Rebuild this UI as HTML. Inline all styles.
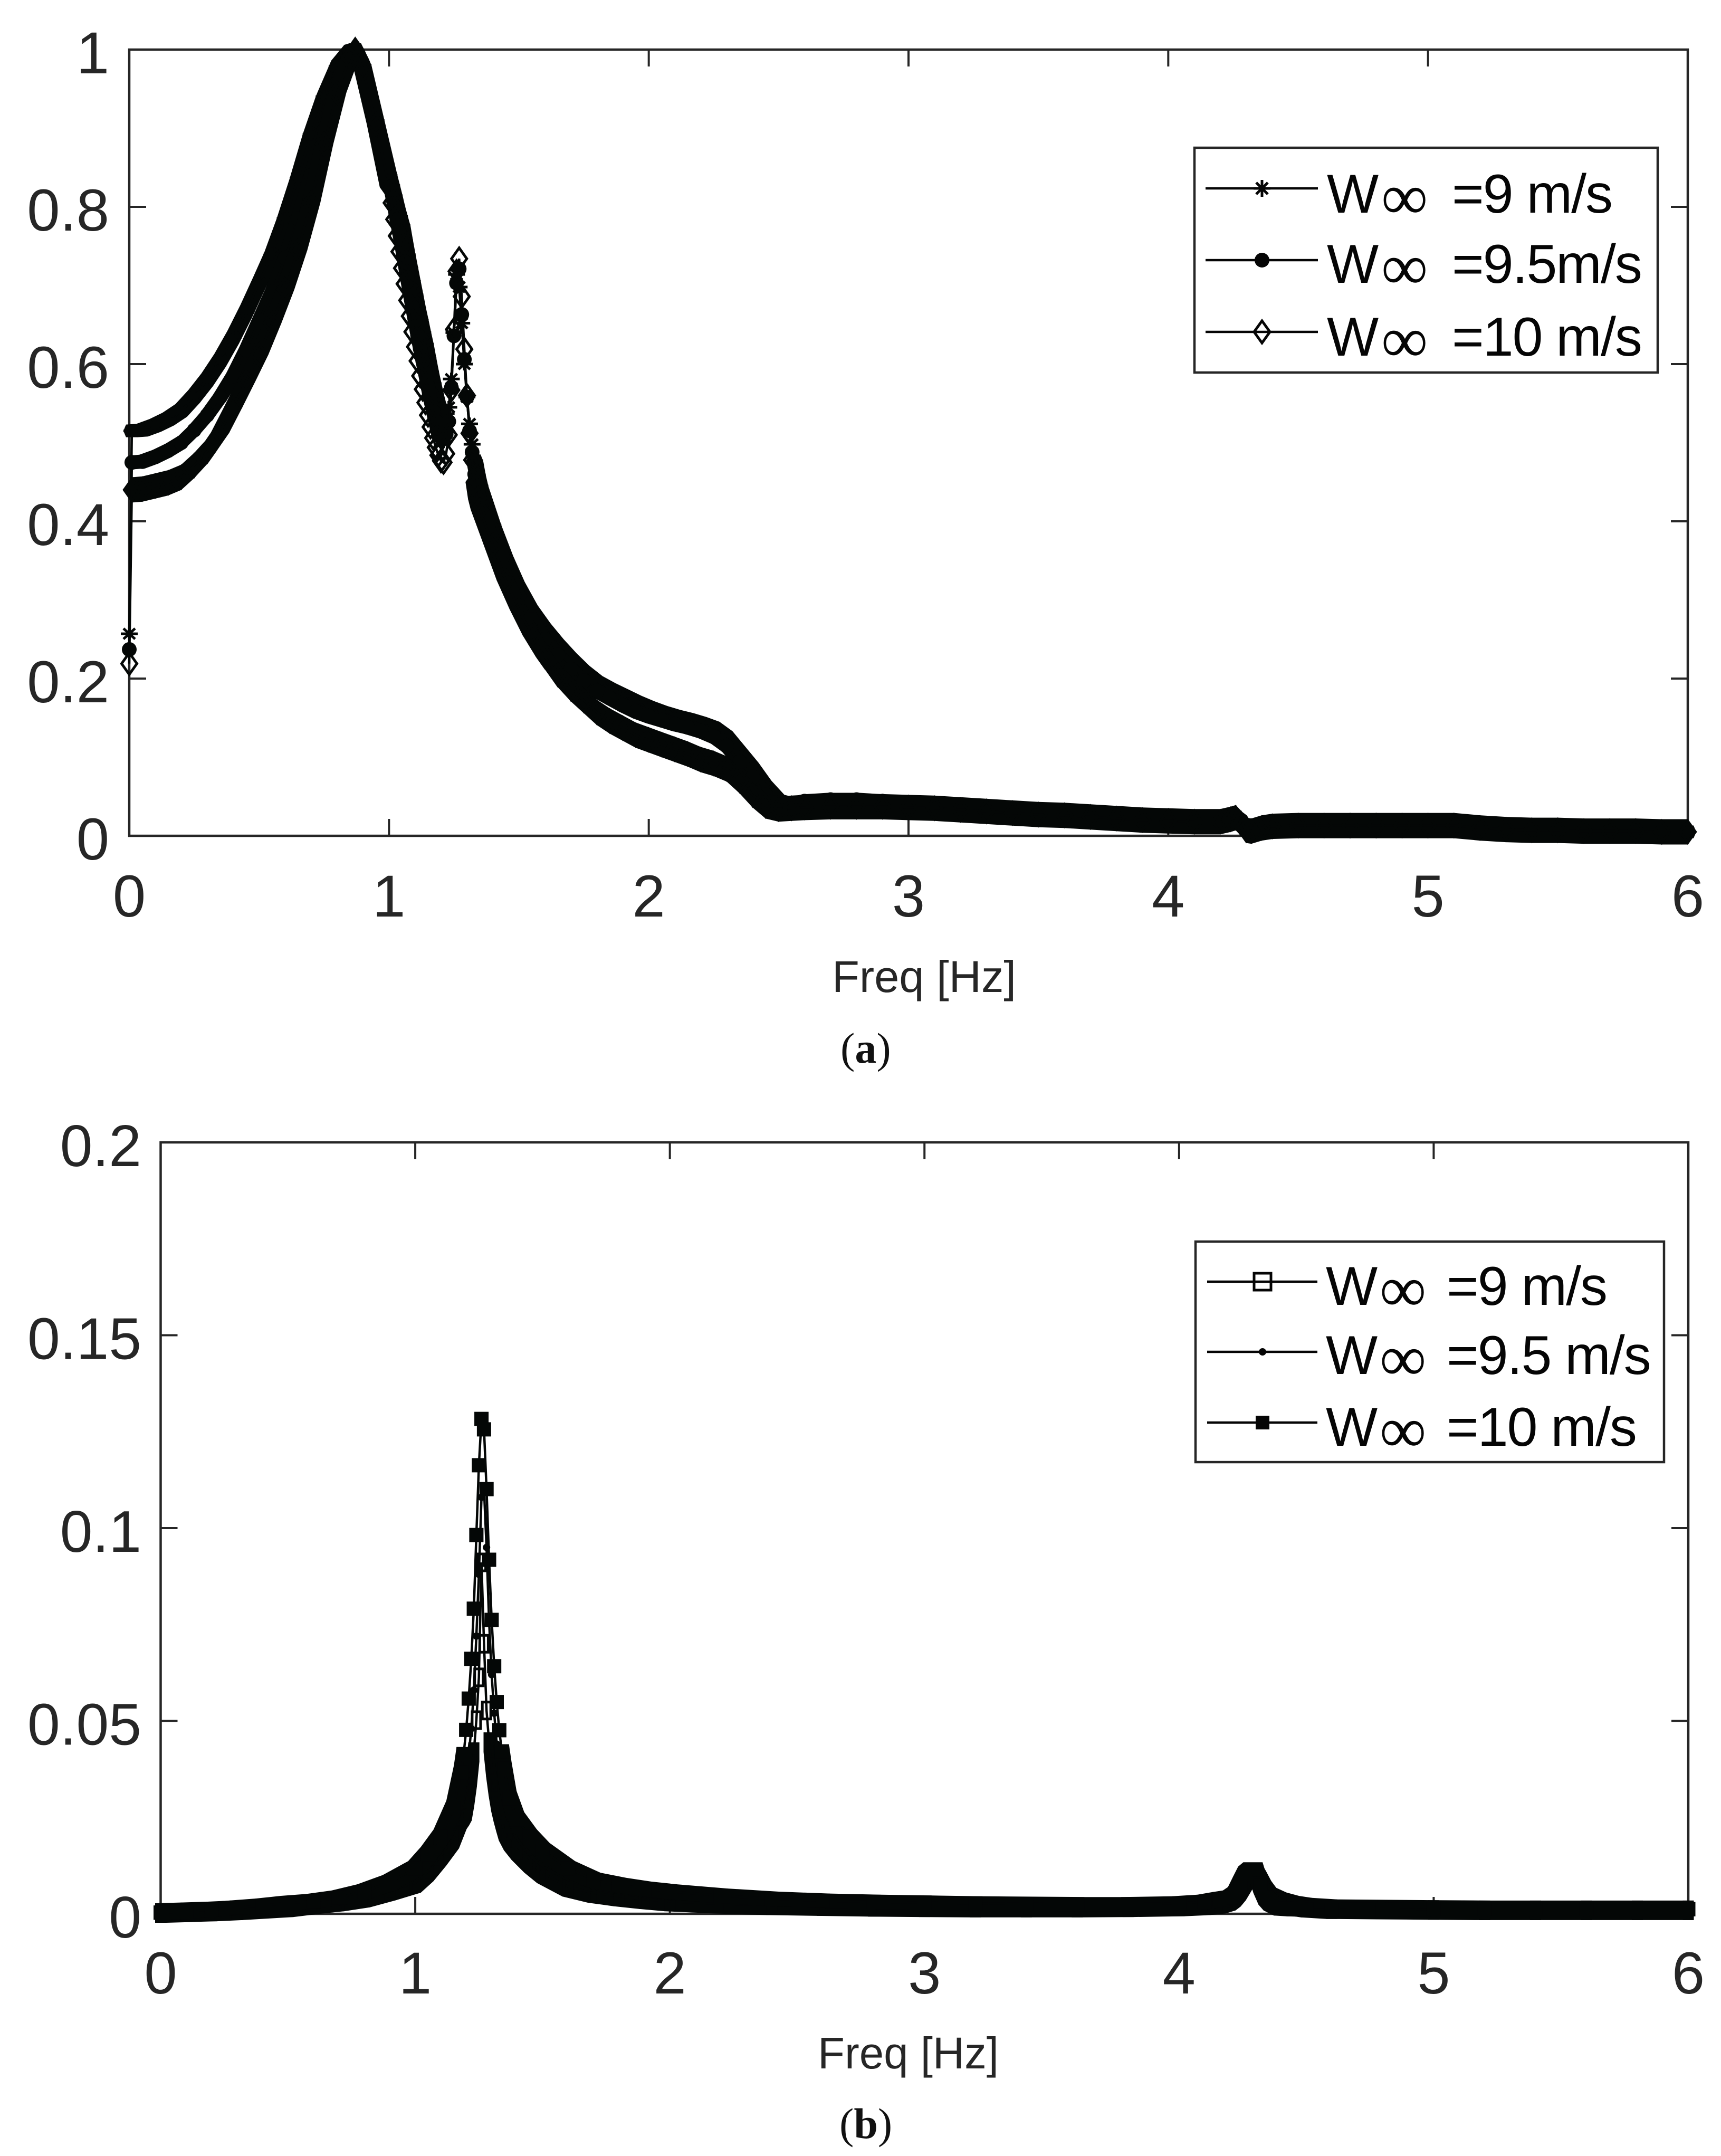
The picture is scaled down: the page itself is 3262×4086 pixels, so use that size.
<!DOCTYPE html>
<html lang="en">
<head>
<meta charset="utf-8">
<title>Frequency response charts</title>
<style>
html,body{margin:0;padding:0;background:#fff}
svg{display:block}
text{font-family:"Liberation Sans",sans-serif;fill:#262626}
.leg{fill:#050505;font-size:104px;letter-spacing:-2px}
.inf{font-family:"Liberation Serif",serif;font-size:124px;letter-spacing:0}
.cap{font-family:"Liberation Serif",serif;font-size:82px;fill:#111}
</style>
</head>
<body>
<svg id="fig" xmlns="http://www.w3.org/2000/svg" width="3262" height="4086" viewBox="0 0 3262 4086">
  <rect width="3262" height="4086" fill="#fff"/>

  <g id="panelA"></g>
  <g id="panelB"></g>

  <text x="1577" y="1880" font-size="84" textLength="349" lengthAdjust="spacingAndGlyphs">Freq [Hz]</text>
  <text class="cap" x="1593" y="2014">(<tspan font-weight="bold">a</tspan>)</text>
  <text x="1550" y="3920" font-size="84" textLength="343" lengthAdjust="spacingAndGlyphs">Freq [Hz]</text>
  <text class="cap" x="1591" y="4052">(<tspan font-weight="bold">b</tspan>)</text>

  <g>
    <rect x="2264" y="280" width="878" height="426" fill="#fff" stroke="#262626" stroke-width="4.5"/>
    <g>
      <path d="M2285 357H2498" stroke="#050505" stroke-width="4.5" fill="none"/>
      <path d="M2392 341V373M2376 357H2408M2381 346L2403 368M2403 346L2381 368" stroke="#050505" stroke-width="5" fill="none"/>
      <text class="leg" x="2515" y="403">W<tspan class="inf" x="2618" dy="12">∞</tspan><tspan x="2752" dy="-12">=9 m/s</tspan></text>
    </g>
    <g>
      <path d="M2285 493H2498" stroke="#050505" stroke-width="4.5" fill="none"/>
      <circle cx="2392" cy="493" r="14" fill="#050505"/>
      <text class="leg" x="2515" y="536">W<tspan class="inf" x="2618" dy="12">∞</tspan><tspan x="2752" dy="-12">=9.5m/s</tspan></text>
    </g>
    <g>
      <path d="M2285 629H2498" stroke="#050505" stroke-width="4.5" fill="none"/>
      <path d="M2377 629L2392 608L2407 629L2392 650Z" stroke="#050505" stroke-width="5" fill="#fff"/>
      <path d="M2377 629H2407" stroke="#050505" stroke-width="4.5"/>
      <text class="leg" x="2515" y="674">W<tspan class="inf" x="2618" dy="12">∞</tspan><tspan x="2752" dy="-12">=10 m/s</tspan></text>
    </g>
  </g>

  <g>
    <rect x="2266" y="2353" width="888" height="418" fill="#fff" stroke="#262626" stroke-width="4.5"/>
    <g>
      <path d="M2288 2429H2497" stroke="#050505" stroke-width="4.5" fill="none"/>
      <rect x="2377" y="2413" width="32" height="32" fill="none" stroke="#050505" stroke-width="5"/>
      <text class="leg" x="2513" y="2473">W<tspan class="inf" x="2615" dy="12">∞</tspan><tspan x="2742" dy="-12">=9 m/s</tspan></text>
    </g>
    <g>
      <path d="M2288 2562H2497" stroke="#050505" stroke-width="4.5" fill="none"/>
      <circle cx="2393" cy="2562" r="7" fill="#050505"/>
      <text class="leg" x="2513" y="2604">W<tspan class="inf" x="2615" dy="12">∞</tspan><tspan x="2742" dy="-12">=9.5 m/s</tspan></text>
    </g>
    <g>
      <path d="M2288 2696H2497" stroke="#050505" stroke-width="4.5" fill="none"/>
      <rect x="2380" y="2683" width="26" height="26" fill="#050505"/>
      <text class="leg" x="2513" y="2740">W<tspan class="inf" x="2615" dy="12">∞</tspan><tspan x="2742" dy="-12">=10 m/s</tspan></text>
    </g>
  </g>
</svg>

<script>
/* ---------- shared tick values ---------- */
const xTickValues = [0, 1, 2, 3, 4, 5, 6];
const xTickLabels = ["0", "1", "2", "3", "4", "5", "6"];

/* ---------- panel (a) data ---------- */
const yTickValuesA = [0, 0.2, 0.4, 0.6, 0.8, 1];
const yTickLabelsA = ["0", "0.2", "0.4", "0.6", "0.8", "1"];

const freqA = [0,.01,.05,.1,.15,.2,.25,.3,.35,.4,.45,.5,.55,.6,.65,.7,.75,.8,.85,.87,.9,.95,
1,1.01,1.02,1.03,1.04,1.05,1.06,1.07,1.08,1.09,1.1,1.11,1.12,1.13,1.14,1.15,1.16,1.17,1.18,1.19,
1.2,1.21,1.22,1.23,1.24,1.25,1.26,1.27,1.28,1.29,1.3,1.31,1.32,1.33,1.34,1.35,
1.4,1.45,1.5,1.55,1.6,1.65,1.7,1.75,1.8,1.85,1.9,1.95,2,2.05,2.1,2.15,2.2,2.25,2.3,2.35,2.4,2.45,2.5,2.55,
2.6,2.7,2.8,2.9,3,3.1,3.2,3.3,3.4,3.5,3.6,3.7,3.8,3.9,4,4.1,4.2,4.24,4.26,4.28,4.3,4.32,4.36,4.4,
4.5,4.6,4.7,4.8,4.9,5,5.1,5.2,5.3,5.4,5.5,5.6,5.7,5.8,5.9,6];

const wind9A = [.257,.515,.516,.522,.530,.541,.559,.580,.605,.634,.667,.703,.740,.785,.836,.892,.940,.978,.998,1,.980,.910,
.840,.827,.814,.800,.788,.776,.757,.739,.722,.705,.688,.671,.656,.640,.625,.607,.590,.575,.560,.547,
.538,.535,.537,.545,.581,.640,.714,.698,.652,.600,.558,.524,.498,.477,.459,.445,
.395,.352,.315,.285,.262,.242,.224,.208,.195,.186,.178,.170,.163,.157,.152,.148,.143,.137,.125,.105,.085,.062,.044,.040,
.043,.043,.043,.042,.040,.038,.036,.034,.032,.030,.028,.026,.024,.022,.021,.020,.020,.022,.023,.018,.008,.006,.010,.012,
.014,.014,.014,.014,.014,.014,.014,.011,.009,.008,.008,.007,.007,.006,.006,.005];

const wind95A = [.237,.475,.476,.482,.490,.500,.516,.535,.558,.585,.618,.655,.692,.735,.785,.840,.898,.957,.995,1,.978,.908,
.835,.819,.802,.784,.767,.749,.730,.710,.691,.673,.655,.637,.620,.604,.588,.571,.555,.540,.527,.516,
.507,.505,.511,.527,.570,.636,.703,.721,.663,.606,.558,.515,.488,.460,.440,.428,
.385,.343,.305,.275,.250,.230,.212,.197,.184,.175,.166,.158,.152,.147,.142,.138,.133,.126,.114,.094,.075,.052,.038,.040,
.044,.046,.046,.044,.042,.039,.037,.035,.033,.031,.029,.027,.024,.022,.021,.020,.020,.022,.023,.018,.008,.006,.010,.013,
.014,.014,.014,.014,.014,.014,.014,.011,.009,.008,.008,.007,.007,.006,.006,.005];

const wind10A = [.219,.440,.441,.445,.449,.456,.471,.489,.513,.545,.578,.612,.652,.695,.745,.805,.880,.945,.990,1,.975,.905,
.825,.805,.784,.763,.743,.722,.702,.681,.661,.641,.622,.604,.585,.568,.551,.535,.520,.506,.494,.484,
.477,.475,.486,.510,.567,.644,.718,.734,.686,.619,.560,.512,.478,.450,.428,.415,
.370,.325,.288,.255,.228,.205,.187,.172,.157,.146,.137,.128,.122,.116,.110,.104,.097,.092,.085,.070,.052,.038,.034,.035,
.036,.037,.037,.037,.036,.035,.033,.031,.029,.027,.026,.024,.022,.020,.019,.018,.018,.021,.023,.016,.007,.006,.010,.012,
.013,.013,.013,.013,.013,.013,.013,.010,.008,.007,.007,.006,.006,.006,.005,.005];

/* ---------- panel (b) data ---------- */
const yTickValuesB = [0, 0.05, 0.1, 0.15, 0.2];
const yTickLabelsB = ["0", "0.05", "0.1", "0.15", "0.2"];

const freqB = [0,.1,.2,.3,.4,.5,.6,.7,.8,.9,1,1.05,1.1,1.15,1.18,1.19,1.2,1.21,1.22,1.23,1.24,1.25,1.26,1.27,1.28,1.29,1.3,1.31,1.32,1.33,1.34,1.35,
1.37,1.4,1.45,1.5,1.6,1.7,1.8,1.9,2,2.2,2.4,2.6,2.8,3,3.2,3.4,3.6,3.8,4,4.1,4.16,4.2,4.22,4.24,4.26,4.28,4.3,4.32,4.34,4.36,4.4,4.45,4.5,4.6,4.8,5,5.2,5.4,5.6,5.8,6];

const wind9B = [.0002,.0004,.0006,.0009,.0013,.0017,.0025,.0032,.0042,.0060,.0080,.0110,.0150,.0195,.0245,.0255,.0267,.0305,.0354,.0419,.0502,.0613,.0911,.0700,.0527,.0445,.0380,.0331,.0291,.0263,.0238,.0215,
.0190,.0165,.0132,.0105,.0070,.0054,.0045,.0038,.0032,.0026,.0022,.0020,.0018,.0017,.0016,.0016,.0016,.0017,.0019,.0022,.0026,.0034,.0044,.0060,.0082,.0105,.0108,.0085,.0060,.0042,.0030,.0021,.0016,.0012,.0011,.0010,.0009,.0009,.0009,.0009,.0009];

const wind95B = [.0002,.0005,.0009,.0012,.0017,.0022,.0028,.0034,.0047,.0065,.0092,.0125,.0170,.0225,.0290,.0320,.0360,.0410,.0480,.0580,.0720,.0880,.1080,.1100,.0950,.0760,.0620,.0520,.0440,.0385,.0340,.0305,
.0250,.0205,.0160,.0130,.0095,.0072,.0060,.0052,.0046,.0038,.0032,.0028,.0026,.0024,.0023,.0022,.0022,.0022,.0023,.0026,.0031,.0036,.0042,.0060,.0088,.0100,.0105,.0090,.0060,.0038,.0022,.0017,.0014,.0012,.0011,.0011,.0010,.0010,.0010,.0010,.0010];

const wind10B = [.0003,.0006,.0011,.0016,.0021,.0028,.0033,.0042,.0058,.0082,.0118,.0155,.0200,.0275,.0367,.0414,.0477,.0558,.0661,.0791,.0982,.1163,.1283,.1256,.1101,.0918,.0762,.0642,.0549,.0476,.0421,.0376,
.0300,.0245,.0200,.0165,.0118,.0088,.0075,.0065,.0058,.0047,.0039,.0034,.0031,.0029,.0027,.0026,.0025,.0025,.0027,.0031,.0038,.0042,.0051,.0078,.0104,.0115,.0115,.0072,.0042,.0027,.0014,.0012,.0011,.0011,.0010,.0012,.0012,.0012,.0012,.0012,.0012];

/* ---------- axis functions ---------- */
const plotA = {left:245, right:3199, top:94, bottom:1584, yMax:1};
const plotB = {left:304.5, right:3200, top:2165, bottom:3627, yMax:0.2};
const X_MAX = 6;
function xScale(p, f){ return p.left + (p.right - p.left) * f / X_MAX; }
function yScale(p, v){ return p.bottom - (p.bottom - p.top) * v / p.yMax; }

const NS = "http://www.w3.org/2000/svg";
const AXIS_COLOR = "#262626";
const INK = "#040706";

/* ---------- marker shapes ---------- */
function octagon(r){
  const k = r * 0.924, m = r * 0.383;
  return [[k,m],[m,k],[-m,k],[-k,m],[-k,-m],[-m,-k],[m,-k],[k,-m]];
}
const outlines = {
  star: [[16,0],[11,12],[-11,12],[-16,0],[-11,-12],[11,-12]],
  dot: octagon(14),
  smallDot: octagon(7),
  diamond: [[17.5,0],[0,24],[-17.5,0],[0,-24]],
  openSquare: [[10.5,18.5],[-10.5,18.5],[-10.5,-18.5],[10.5,-18.5]],
  filledSquare: [[13.5,13.5],[-13.5,13.5],[-13.5,-13.5],[13.5,-13.5]]
};
function markerD(kind, x, y){
  const a = x.toFixed(1), b = y.toFixed(1);
  if (kind === "star") {
    return "M"+(x-16)+" "+b+"H"+(x+16)+"M"+a+" "+(y-12)+"V"+(y+12)+
           "M"+(x-11)+" "+(y-10)+"L"+(x+11)+" "+(y+10)+"M"+(x+11)+" "+(y-10)+"L"+(x-11)+" "+(y+10);
  }
  if (kind === "dot" || kind === "smallDot") {
    const r = kind === "dot" ? 14 : 7;
    return "M"+(x-r)+" "+b+"a"+r+" "+r+" 0 1 0 "+(2*r)+" 0a"+r+" "+r+" 0 1 0 "+(-2*r)+" 0Z";
  }
  if (kind === "diamond") {
    return "M"+(x-14.5)+" "+b+"L"+a+" "+(y-20.5)+"L"+(x+14.5)+" "+b+"L"+a+" "+(y+20.5)+"Z";
  }
  if (kind === "openSquare") {
    return "M"+(x-8)+" "+(y-16)+"h16v32h-16Z";
  }
  return "M"+(x-13.5)+" "+(y-13.5)+"h27v27h-27Z";
}
function convexHull(pts){
  pts.sort(function(p,q){ return p[0]-q[0] || p[1]-q[1]; });
  function cross(o,p,q){ return (p[0]-o[0])*(q[1]-o[1])-(p[1]-o[1])*(q[0]-o[0]); }
  const lower = [], upper = [];
  for (const p of pts) {
    while (lower.length > 1 && cross(lower[lower.length-2], lower[lower.length-1], p) <= 0) lower.pop();
    lower.push(p);
  }
  for (let i = pts.length-1; i >= 0; i--) {
    const p = pts[i];
    while (upper.length > 1 && cross(upper[upper.length-2], upper[upper.length-1], p) <= 0) upper.pop();
    upper.push(p);
  }
  lower.pop(); upper.pop();
  return lower.concat(upper);
}

/* Where individual markers stay legible, the swept marker band is not drawn. */
function bandSkipped(rules, f0, f1, v0, v1){
  return rules.some(function(r){
    return f0 >= r.from && f1 <= r.to && Math.max(v0, v1) > r.above;
  });
}

/* ---------- drawing ---------- */
function drawSeries(parent, plot, freq, values, kind, name, rules){
  const g = document.createElementNS(NS, "g");
  
  
  let lineD = "", markD = "", bandD = "";
  const outline = outlines[kind];
  for (let i = 0; i < freq.length; i++) {
    const x = xScale(plot, freq[i]), y = yScale(plot, values[i]);
    lineD += (i ? "L" : "M") + x.toFixed(1) + " " + y.toFixed(1);
    markD += markerD(kind, x, y);
    if (i > 0 && !bandSkipped(rules, freq[i-1], freq[i], values[i-1], values[i])) {
      const px = xScale(plot, freq[i-1]), py = yScale(plot, values[i-1]);
      const pts = [];
      for (const o of outline) {
        pts.push([x + o[0], y + o[1]]);
        pts.push([px + o[0], py + o[1]]);
      }
      const h = convexHull(pts);
      bandD += "M" + h.map(function(p){ return p[0].toFixed(1) + " " + p[1].toFixed(1); }).join("L") + "Z";
    }
  }
  const band = document.createElementNS(NS, "path");
  
  
  band.setAttribute("d", bandD);
  band.setAttribute("fill", INK);
  g.appendChild(band);

  const line = document.createElementNS(NS, "path");
  
  
  line.setAttribute("d", lineD);
  line.setAttribute("fill", "none");
  line.setAttribute("stroke", INK);
  line.setAttribute("stroke-width", "4.5");
  g.appendChild(line);

  const marks = document.createElementNS(NS, "path");
  
  
  marks.setAttribute("d", markD);
  if (kind === "dot" || kind === "smallDot" || kind === "filledSquare") {
    marks.setAttribute("fill", INK);
  } else {
    marks.setAttribute("fill", "none");
    marks.setAttribute("stroke", INK);
    marks.setAttribute("stroke-width", "5");
  }
  g.appendChild(marks);
  parent.appendChild(g);
}

function drawAxes(parent, plot, yValues, yLabels, yLabelRight, xLabelBaseline, yFont){
  const box = document.createElementNS(NS, "rect");
  
  
  box.setAttribute("x", plot.left);
  box.setAttribute("y", plot.top);
  box.setAttribute("width", plot.right - plot.left);
  box.setAttribute("height", plot.bottom - plot.top);
  box.setAttribute("fill", "none");
  box.setAttribute("stroke", AXIS_COLOR);
  box.setAttribute("stroke-width", "4.5");
  parent.appendChild(box);

  let tickD = "";
  xTickValues.forEach(function(v){
    const x = xScale(plot, v);
    tickD += "M"+x+" "+plot.bottom+"v-32M"+x+" "+plot.top+"v32";
  });
  yValues.forEach(function(v){
    const y = yScale(plot, v);
    tickD += "M"+plot.left+" "+y+"h32M"+plot.right+" "+y+"h-32";
  });
  const ticks = document.createElementNS(NS, "path");
  
  
  ticks.setAttribute("d", tickD);
  ticks.setAttribute("fill", "none");
  ticks.setAttribute("stroke", AXIS_COLOR);
  ticks.setAttribute("stroke-width", "4");
  parent.appendChild(ticks);

  xTickValues.forEach(function(v, i){
    const t = document.createElementNS(NS, "text");
    
    
    t.setAttribute("x", xScale(plot, v));
    t.setAttribute("y", xLabelBaseline);
    t.setAttribute("font-size", "112");
    t.setAttribute("text-anchor", "middle");
    t.textContent = xTickLabels[i];
    parent.appendChild(t);
  });
  yValues.forEach(function(v, i){
    const t = document.createElementNS(NS, "text");
    
    
    t.setAttribute("x", yLabelRight);
    t.setAttribute("y", yScale(plot, v) + 45);
    t.setAttribute("font-size", yFont);
    t.setAttribute("text-anchor", "end");
    t.textContent = yLabels[i];
    parent.appendChild(t);
  });
}

const jumpRule = {from:0, to:0.01, above:0};
const spikeRule = {from:1.21, to:1.33, above:0};
const diamondRule = {from:1.0, to:1.33, above:0};
const peakRule = {from:1.15, to:1.36, above:0.045};

const panelA = document.getElementById("panelA");
drawAxes(panelA, plotA, yTickValuesA, yTickLabelsA, 207, 1737, 112);
drawSeries(panelA, plotA, freqA, wind9A, "star", "series-9-ms", [jumpRule, spikeRule]);
drawSeries(panelA, plotA, freqA, wind95A, "dot", "series-9-5-ms", [jumpRule, spikeRule]);
drawSeries(panelA, plotA, freqA, wind10A, "diamond", "series-10-ms", [jumpRule, diamondRule]);

const panelB = document.getElementById("panelB");
drawAxes(panelB, plotB, yTickValuesB, yTickLabelsB, 268, 3778, 111);
drawSeries(panelB, plotB, freqB, wind9B, "openSquare", "series-9-ms", [peakRule]);
drawSeries(panelB, plotB, freqB, wind95B, "smallDot", "series-9-5-ms", [peakRule]);
drawSeries(panelB, plotB, freqB, wind10B, "filledSquare", "series-10-ms", [peakRule]);
</script>
</body>
</html>
